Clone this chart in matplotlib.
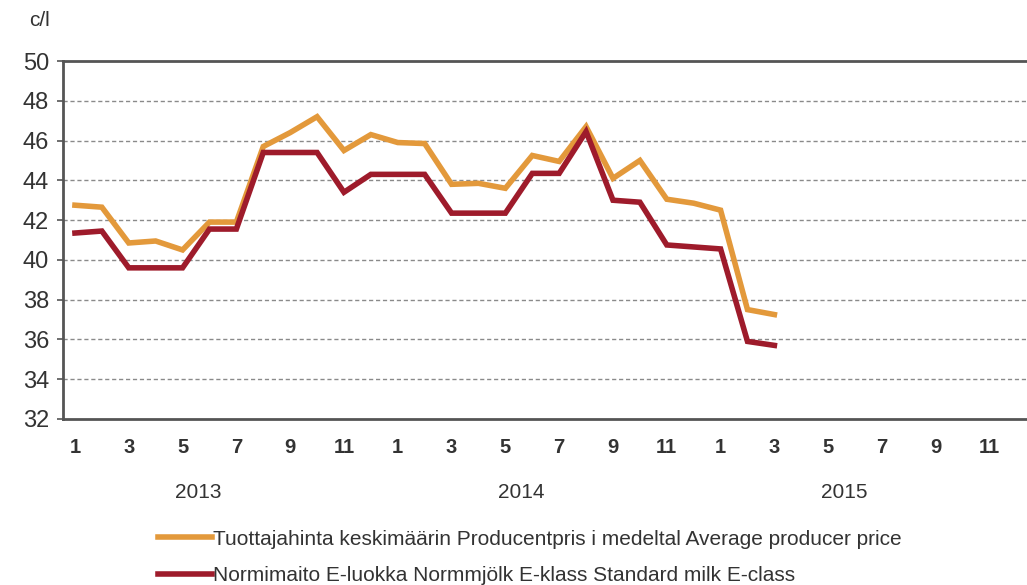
import matplotlib
matplotlib.use("Agg")
import matplotlib.pyplot as plt
import matplotlib.transforms as mtransforms

plt.rcParams['font.family'] = ['Liberation Sans', 'DejaVu Sans']

# months 1..27 = 2013-01 .. 2015-03
months = list(range(1, 28))
producer_price = [42.75, 42.65, 40.85, 40.95, 40.5, 41.9, 41.9, 45.7, 46.4, 47.2,
                  45.5, 46.3, 45.9, 45.85, 43.8, 43.85, 43.6, 45.25, 44.95, 46.7,
                  44.1, 45.0, 43.05, 42.85, 42.5, 37.5, 37.25]
standard_milk = [41.35, 41.45, 39.6, 39.6, 39.6, 41.55, 41.55, 45.4, 45.4, 45.4,
                 43.4, 44.3, 44.3, 44.3, 42.35, 42.35, 42.35, 44.35, 44.35, 46.45,
                 43.0, 42.9, 40.75, 40.65, 40.55, 35.9, 35.7]
tick_months = list(range(1, 37, 2))
tick_labels = [str((m - 1) % 12 + 1) for m in tick_months]
years = ["2013", "2014", "2015"]
label_producer = "Tuottajahinta keskimäärin Producentpris i medeltal Average producer price"
label_standard = "Normimaito E-luokka Normmjölk E-klass Standard milk E-class"

txt = "#333333"
fig = plt.figure(figsize=(10.27, 5.85), dpi=100)
ax = fig.add_axes([0.0613, 0.2838, 0.9387, 0.6119])

l1, = ax.plot(months, producer_price, color="#E3993B", lw=4, solid_joinstyle="miter")
l2, = ax.plot(months, standard_milk, color="#9E1B2B", lw=4, solid_joinstyle="miter")

ax.set_ylim(32, 50)
ax.set_xlim(0.554, 36.39)
ax.set_yticks(range(32, 51, 2))
ax.set_xticks(tick_months)
ax.set_xticklabels(tick_labels)
ax.tick_params(axis="y", length=4, width=1.2, color="#555555", labelsize=17,
               labelcolor=txt, pad=6)
ax.tick_params(axis="x", length=0, labelsize=14.5, labelcolor=txt, pad=14)
for t in ax.get_xticklabels():
    t.set_fontweight("bold")

for y in range(34, 50, 2):
    ax.axhline(y, color="#8a8a8a", lw=1, ls=(0, (3, 2)), zorder=0)

for s in ["left", "top", "bottom"]:
    ax.spines[s].set_color("#555555")
    ax.spines[s].set_linewidth(2)
ax.spines["right"].set_visible(False)

trans = mtransforms.blended_transform_factory(ax.transData, ax.transAxes)
for i, yr in enumerate(years):
    ax.text(5.6 + 12 * i, -0.205, yr, transform=trans, ha="center", va="center",
            fontsize=15, color=txt)

fig.text(0.028, 0.965, "c/l", fontsize=15, color=txt, va="center")

fig.legend([l1, l2], [label_producer, label_standard], loc="upper left",
           bbox_to_anchor=(0.146, 0.109), frameon=False, fontsize=15,
           handlelength=2.6, handletextpad=0.05, labelspacing=0.85,
           borderaxespad=0, labelcolor=txt)

fig.savefig("out.png", dpi=100, facecolor="white")
